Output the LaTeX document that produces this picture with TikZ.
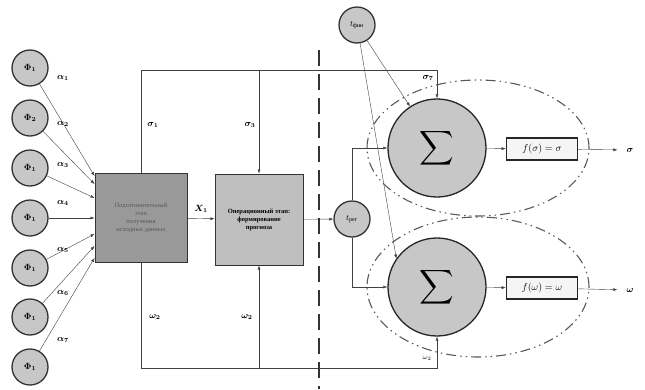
\documentclass[tikz,border=0pt]{standalone}
\usepackage{fontspec}
\setmainfont{Liberation Serif}
\usepackage{amsmath}
\usetikzlibrary{positioning,arrows.meta,calc}
\tikzset{
  inp/.style  = {draw=black!80, circle, line width=1.3pt, fill=black!22,
                 minimum size=36pt, inner sep=0pt, font=\small\boldmath},
  tim/.style  = {inp, font=\footnotesize},
  summ/.style = {draw=black!85, circle, line width=1.3pt, fill=black!22,
                 minimum size=98pt, inner sep=0pt},
  blk/.style  = {draw=black!80, line width=1pt, align=center,
                 font=\fontsize{6.5}{8}\selectfont, inner sep=2pt},
  fbx/.style  = {draw=black!85, line width=1.6pt, fill=black!4, minimum width=71pt,
                 minimum height=22pt, inner sep=1pt, font=\normalsize},
  ar/.style   = {-{Latex[length=4pt,width=3pt]}, thin, draw=black!75},
  lbl/.style  = {font=\small\boldmath, inner sep=1pt},
  grp/.style  = {draw=black!65, line width=1.1pt,
                 dash pattern=on 10pt off 4pt on 1.5pt off 4pt on 1.5pt off 4pt},
  cutline/.style = {draw=black!80, line width=1.3pt, dash pattern=on 16pt off 8pt},
}
\begin{document}
\begin{tikzpicture}[x=1pt,y=-1pt]
\useasboundingbox (0,0) rectangle (645,389);

\foreach \i/\y/\t in {1/68/1,2/118/2,3/168/1,4/218/1,5/268/1,6/317/1,7/367/1}
  \node[inp] (f\i) at (30,\y) {$\Phi_{\t}$};

\node[blk, fill=black!40, text=black!65, minimum width=92pt, minimum height=89pt] (b1) at (141,217.5)
     {Подготовительный\\этап\\получения\\исходных данных};
\node[blk, fill=black!25, font=\fontsize{6.5}{8}\selectfont\bfseries, minimum width=88pt, minimum height=91pt] (b2) at (259,219.5)
     {Операционный этап:\\формирование\\прогноза};

\foreach \i/\e/\dy in {1/176/10,2/184/6,3/198/-3,4/218/-15,5/234/-18,6/246/-24,7/258/-27}{
  \coordinate (e\i) at (b1.west |- 0,\e);
  \draw[ar] (f\i) -- (e\i);
  \node[lbl] (a\i) at ($(f\i)+(33,\dy)$) {$\alpha_{\i}$};
}

\node[tim] (tf) at (357,25) {$t_{\text{фин}}$};
\node[tim] (tr) at (352,219) {$t_{\text{рег}}$};

\node[summ] (s1) at (437,148) {\scalebox{2.4}{$\displaystyle\sum$}};
\node[summ] (s2) at (437,287) {\scalebox{2.4}{$\displaystyle\sum$}};

\node[fbx] (g1) at (542,149) {$f(\sigma)=\sigma$};
\node[fbx] (g2) at (542,288) {$f(\omega)=\omega$};
\node[lbl] (sig) at (630,150) {$\sigma$};
\node[lbl] (om) at (630,290) {$\omega$};

\coordinate (topbus) at (0,70);
\coordinate (botbus) at (0,368);
\coordinate (cuttop) at (319,50);
\coordinate (cutbot) at (319,389);

\draw[ar] (b1) -- (b2) node[midway, above=5pt, lbl] (x1) {$X_1$};
\draw[ar] (b2) -- (tr);
\draw[ar] (b1.north) |- (topbus -| s1) -- (s1.north);
\draw[ar] (b2.north |- topbus) -- (b2.north);
\draw[ar] (b1.south) |- (botbus -| s2) -- (s2.south);
\draw[ar] (b2.south |- botbus) -- (b2.south);
\draw[ar] (tr.north) |- (s1.west);
\draw[ar] (tr.south) |- (s2.west);
\draw[ar] (tf) -- (s1);
\draw[ar] (tf) -- (s2.145);
\draw[ar] (s1) -- (g1);
\draw[ar] (s2) -- (g2);
\draw[ar, shorten >=8pt] (g1) -- (sig);
\draw[ar, shorten >=8pt] (g2) -- (om);

\node[lbl] (l1) at (153,125) {$\sigma_1$};
\node[lbl] (l2) at (250,125) {$\sigma_3$};
\node[lbl] (l3) at (428,78) {$\sigma_7$};
\node[lbl] (l4) at (155,317) {$\omega_2$};
\node[lbl] (l5) at (247,317) {$\omega_2$};
\node[lbl, font=\scriptsize] (l6) at (427,358) {$\omega_2$};

\draw[cutline] (cuttop) -- (cutbot);
\draw[grp] (478,148) ellipse [x radius=111pt, y radius=68pt];
\draw[grp] (478,287) ellipse [x radius=111pt, y radius=70pt];
\end{tikzpicture}
\end{document}
